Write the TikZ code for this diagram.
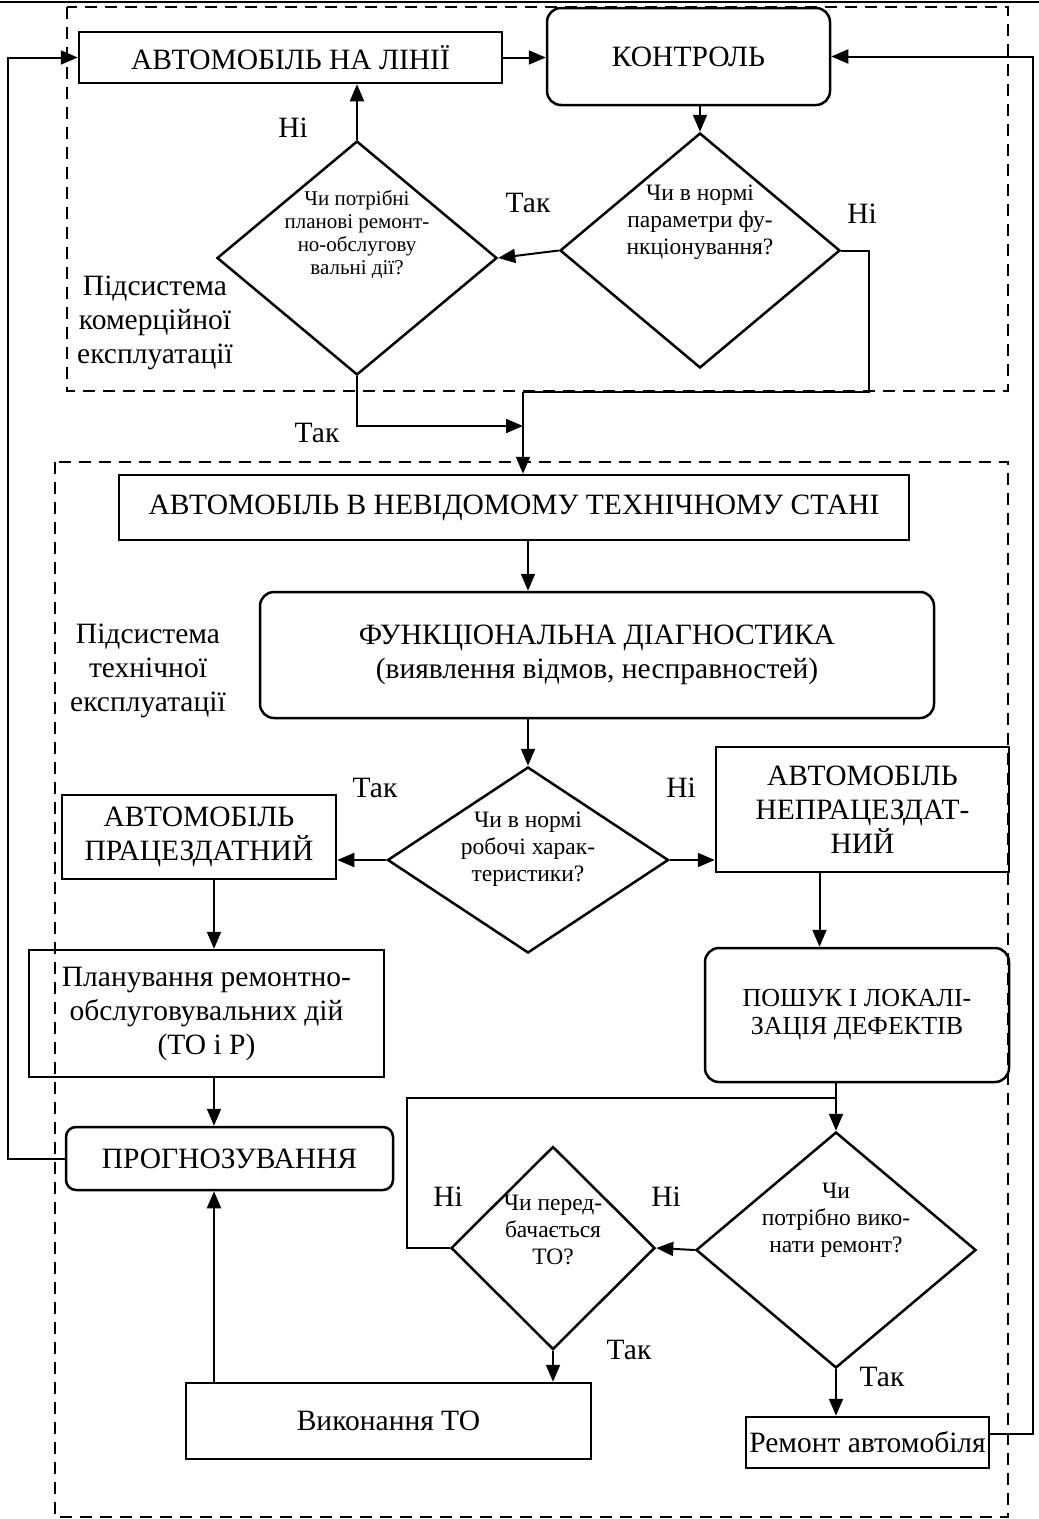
\documentclass[tikz,border=0pt]{standalone}
\usepackage{fontspec}
\setmainfont{Liberation Serif}
\usetikzlibrary{shapes.geometric,arrows.meta}
\newcommand{\boxfont}{\fontsize{29.5}{34}\selectfont}
\newcommand{\askfont}{\fontsize{23.5}{27}\selectfont}
\tikzset{
  box/.style={draw, line width=2.5pt, align=center, inner sep=0pt, font=\boxfont},
  rbox/.style={box, rounded corners=14pt},
  ask/.style={draw, diamond, line width=2.5pt, inner sep=0pt},
  asktext/.style={align=center, inner sep=0pt, font=\askfont},
  answer/.style={inner sep=0pt, font=\boxfont},
  zone/.style={line width=2pt, dash pattern=on 12pt off 8pt},
  flow/.style={line width=2pt},
  arr/.style={flow, -{Triangle[length=17pt,width=14pt]}}
}

\begin{document}
\begin{tikzpicture}[x=1pt,y=-1pt]
  \useasboundingbox (0,0) rectangle (1039,1519);
  \draw[line width=2pt] (0,1.5) -- (1039,1.5);
  \draw[zone] (67,7) rectangle (1008,391);
  \draw[zone] (55,462) rectangle (1008,1517);

  \node[box, minimum width=423pt, minimum height=51pt] (onroad) at (290.5,57.5) {АВТОМОБІЛЬ НА ЛІНІЇ};
  \node[rbox, minimum width=283pt, minimum height=97pt] (control) at (688.5,56.5) {КОНТРОЛЬ};
  \node[ask, minimum width=280pt, minimum height=234pt] (planq) at (357,258) {};
  \node[asktext, font=\fontsize{21}{23}\selectfont] (planqt) at (357,235) {Чи потрібні\\планові ремонт-\\но-обслугову\\вальні дії?};
  \node[ask, minimum width=280pt, minimum height=235pt] (normq) at (700,250.5) {};
  \node[asktext] (normqt) at (700,222) {Чи в нормі\\параметри фу-\\нкціонування?};
  \node[answer, align=center] (commerce) at (155,323) {Підсистема\\комерційної\\експлуатації};

  \node[box, minimum width=790pt, minimum height=65pt] (unknown) at (514,507.5) {АВТОМОБІЛЬ В НЕВІДОМОМУ ТЕХНІЧНОМУ СТАНІ};
  \node[rbox, minimum width=674pt, minimum height=126pt] (diag) at (597,655) {ФУНКЦІОНАЛЬНА ДІАГНОСТИКА\\(виявлення відмов, несправностей)};
  \node[answer, align=center] (technical) at (148,671) {Підсистема\\технічної\\експлуатації};
  \node[ask, minimum width=281pt, minimum height=186pt] (workq) at (528,860) {};
  \node[asktext] (workqt) at (528,849) {Чи в нормі\\робочі харак-\\теристики?};
  \node[box, minimum width=274pt, minimum height=84pt] (able) at (199,837) {АВТОМОБІЛЬ\\ПРАЦЕЗДАТНИЙ};
  \node[box, minimum width=293pt, minimum height=125pt] (unable) at (862.5,809.5) {АВТОМОБІЛЬ\\НЕПРАЦЕЗДАТ-\\НИЙ};
  \node[box, minimum width=355pt, minimum height=127pt] (planning) at (206.5,1013.5) {Планування ремонтно-\\обслуговувальних дій\\(ТО і Р)};
  \node[rbox, font=\fontsize{26}{28}\selectfont, minimum width=304pt, minimum height=134pt] (search) at (857,1015) {ПОШУК І ЛОКАЛІ-\\ЗАЦІЯ ДЕФЕКТІВ};
  \node[rbox, rounded corners=10pt, minimum width=327pt, minimum height=63pt] (forecast) at (229.5,1158.5) {ПРОГНОЗУВАННЯ};
  \node[ask, minimum width=280pt, minimum height=236pt] (repairq) at (836,1250) {};
  \node[asktext] (repairqt) at (836,1220) {Чи\\потрібно вико-\\нати ремонт?};
  \node[ask, minimum width=204pt, minimum height=203pt] (toq) at (553,1248) {};
  \node[asktext] (toqt) at (553,1230) {Чи перед-\\бачається\\ТО?};
  \node[box, minimum width=405pt, minimum height=76pt] (doto) at (388.5,1421) {Виконання ТО};
  \node[box, minimum width=243pt, minimum height=51pt] (repair) at (867.5,1442.5) {Ремонт автомобіля};

  \foreach \x/\y/\t [count=\i] in {293/128/Ні, 528/203/Так, 862/214/Ні, 317/433/Так, 375/788/Так, 681/788/Ні, 448/1197/Ні, 666/1197/Ні, 629/1350/Так, 882/1377/Так}
    \node[answer] (yn\i) at (\x,\y) {\t};

  \coordinate (merge) at (523,392);
  \coordinate (join) at (523,426);
  \coordinate (col) at (214,0);
  \coordinate (loop) at (836,1098);

  \draw[arr] (onroad.east) -- (onroad.east -| control.west);
  \draw[arr] (control.south -| normq.north) -- (normq.north);
  \draw[arr] (normq.west) -- (planq.east);
  \draw[arr] (planq.north) -- (planq.north |- onroad.south);
  \draw[flow] (normq.east) -- ++(28,0) |- (merge);
  \draw[arr] (planq.south) |- (join);
  \draw[arr] (merge) -- (merge |- unknown.north);
  \draw[arr] (unknown.south -| workq.north) -- (diag.north -| workq.north);
  \draw[arr] (diag.south -| workq.north) -- (workq.north);
  \draw[arr] (workq.west) -- (workq.west -| able.east);
  \draw[arr] (workq.east) -- (workq.east -| unable.west);
  \draw[arr] (col |- able.south) -- (col |- planning.north);
  \draw[arr] (col |- planning.south) -- (col |- forecast.north);
  \draw[arr] (col |- doto.north) -- (col |- forecast.south);
  \draw[arr] (forecast.west) -- ++(-57,0) |- (onroad.west);
  \draw[arr] ([xshift=-43pt]unable.south) -- ([xshift=-43pt]unable.south |- search.north);
  \draw[arr] (search.south -| repairq.north) -- (repairq.north);
  \draw[flow] (toq.west) -- ++(-43,0) |- (loop);
  \draw[arr] (repairq.west) -- (toq.east);
  \draw[arr] (toq.south) -- (toq.south |- doto.north);
  \draw[arr] (repairq.south) -- (repairq.south |- repair.north);
  \draw[arr] ([yshift=9pt]repair.east) -- ++(43,0) |- (control.east);
\end{tikzpicture}
\end{document}
